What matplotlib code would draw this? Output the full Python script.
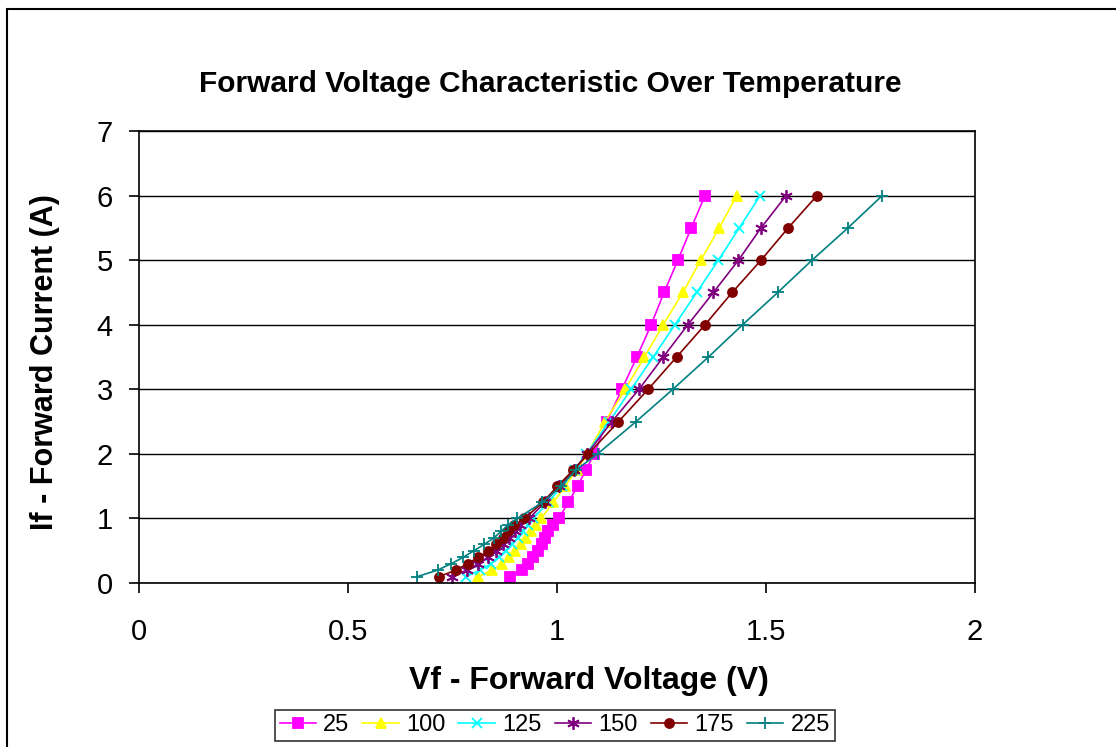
import numpy as np
import matplotlib
matplotlib.use('Agg')
import matplotlib.pyplot as plt
from matplotlib.patches import Rectangle

plt.rcParams['font.family'] = ['Liberation Sans', 'DejaVu Sans']

# forward current levels (A)
current = [0.1, 0.2, 0.3, 0.4, 0.5, 0.6, 0.7, 0.8, 0.9, 1.0,
           1.25, 1.5, 1.75, 2.0, 2.5, 3.0, 3.5, 4.0, 4.5, 5.0, 5.5, 6.0]

# forward voltage (V) per temperature
vf_25 = [0.888, 0.916, 0.930, 0.943, 0.954, 0.963, 0.971, 0.979, 0.990, 1.004,
         1.027, 1.049, 1.069, 1.089, 1.119, 1.155, 1.191, 1.225, 1.256, 1.289, 1.321, 1.354]
vf_100 = [0.812, 0.845, 0.868, 0.885, 0.900, 0.913, 0.925, 0.937, 0.949, 0.962,
          0.991, 1.019, 1.047, 1.072, 1.115, 1.163, 1.209, 1.254, 1.301, 1.344, 1.388, 1.430]
vf_125 = [0.783, 0.816, 0.842, 0.862, 0.878, 0.893, 0.906, 0.918, 0.930, 0.943,
          0.979, 1.011, 1.042, 1.070, 1.125, 1.177, 1.230, 1.282, 1.334, 1.386, 1.436, 1.486]
vf_150 = [0.748, 0.784, 0.812, 0.835, 0.854, 0.870, 0.885, 0.899, 0.912, 0.933,
          0.971, 1.005, 1.040, 1.072, 1.131, 1.196, 1.254, 1.313, 1.374, 1.434, 1.488, 1.548]
vf_175 = [0.718, 0.758, 0.786, 0.812, 0.836, 0.854, 0.870, 0.883, 0.898, 0.922,
          0.966, 1.001, 1.039, 1.075, 1.147, 1.218, 1.286, 1.354, 1.419, 1.488, 1.553, 1.622]
vf_225 = [0.666, 0.714, 0.747, 0.776, 0.801, 0.826, 0.849, 0.866, 0.883, 0.905,
          0.965, 1.010, 1.045, 1.097, 1.189, 1.277, 1.362, 1.444, 1.528, 1.610, 1.696, 1.778]

labels = ['25', '100', '125', '150', '175', '225']
series = [vf_25, vf_100, vf_125, vf_150, vf_175, vf_225]
colors = ['#FF00FF', '#FFFF00', '#00FFFF', '#800080', '#800000', '#008080']
markers = ['s', '^', 'x', (6, 2, 0), 'o', '+']
msizes = [6.5, 7.5, 7.5, 9, 6.5, 8]

fig = plt.figure(figsize=(11.16, 7.47), dpi=100)
ax = fig.add_axes([0.1246, 0.2195, 0.7491, 0.6051])

for vals, lab, c, m, ms in zip(series, labels, colors, markers, msizes):
    ax.plot(vals, current, color=c, marker=m, markersize=ms, linewidth=1.2,
            markeredgewidth=1.3, label=lab)

ax.set_xlim(0, 2)
ax.set_ylim(0, 7)
ax.set_xticks([0, 0.5, 1, 1.5, 2])
ax.set_xticklabels(['0', '0.5', '1', '1.5', '2'])
ax.set_yticks(range(8))
ax.yaxis.grid(True, color='black', linewidth=1)
ax.set_axisbelow(True)
for s in ax.spines.values():
    s.set_linewidth(1.2)
ax.tick_params(axis='x', direction='out', length=7, width=1.2, labelsize=21, pad=18)
ax.tick_params(axis='y', direction='out', length=7, width=1.2, labelsize=21, pad=12)

fig.text(0.493, 0.887, 'Forward Voltage Characteristic Over Temperature',
         ha='center', va='center', fontsize=21.5, fontweight='bold')
fig.text(0.528, 0.088, 'Vf - Forward Voltage (V)', ha='center', va='center',
         fontsize=23, fontweight='bold')
fig.text(0.040, 0.515, 'If - Forward Current (A)', ha='center', va='center',
         fontsize=22, fontweight='bold', rotation=90)

leg = fig.legend(loc='center', bbox_to_anchor=(0.497, 0.029), ncol=6, fontsize=17,
                 frameon=True, fancybox=False, edgecolor='black', handlelength=1.55,
                 handletextpad=0.3, columnspacing=0.55, borderpad=0.2)
leg.get_frame().set_linewidth(1.2)

fig.patches.append(Rectangle((0.006, -0.02), 1.1, 1.008, transform=fig.transFigure,
                             fill=False, edgecolor='black', linewidth=1.5))

fig.savefig('out.png', dpi=100)
